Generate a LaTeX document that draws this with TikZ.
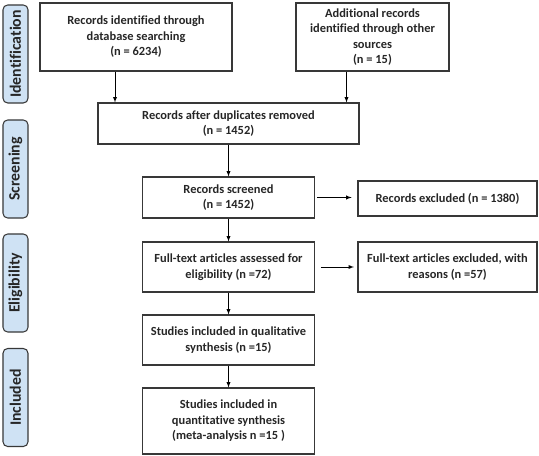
\documentclass[tikz,border=0pt]{standalone}
\usepackage{fontspec}
\setmainfont{Carlito}[Ligatures={NoCommon}]
\usetikzlibrary{arrows,positioning,calc}
\definecolor{sidefill}{HTML}{CFE2F4}
\definecolor{lineg}{HTML}{383838}

\begin{document}
\begin{tikzpicture}[x=0.03cm,y=-0.03cm,>=latex,semithick]
	\tikzstyle{block} = [draw=lineg,line width=0.9pt,rectangle,align=center,inner sep=1pt,font=\bfseries\fontsize{10.6}{13.2}\selectfont,text=black!85]
	\tikzstyle{side} = [draw=lineg,line width=0.9pt,rectangle,rounded corners=4pt,fill=sidefill,rotate=90,minimum width=2.94cm,minimum height=0.75cm,inner sep=0pt,font=\bfseries\fontsize{13.5}{14}\selectfont,text=black!85]
	\tikzstyle{arr} = [->,line width=0.6pt,draw=black]

	\useasboundingbox (0,0) rectangle (539,456);

	% phase labels
	\node[side] (S1) at (15.5,54) {Identification};
	\node[side] (S2) at (15.5,169) {Screening};
	\node[side] (S3) at (15.5,283) {Eligibility};
	\node[side] (S4) at (15.5,397.5) {Included};

	% boxes
	\node[block,minimum width=5.76cm,minimum height=2.04cm] (T1) at (136,37) {Records identified through\\ database searching\\ (n = 6234)};
	\node[block,minimum width=4.59cm,minimum height=2.04cm] (T2) at (372.5,37) {Additional records\\ identified through other\\ sources\\ (n = 15)};
	\node[block,minimum width=7.83cm,minimum height=1.23cm] (T3) at (228.5,123.5) {Records after duplicates removed\\ (n = 1452)};
	\node[block,minimum width=5.16cm,minimum height=1.23cm] (T4) at (228.5,197.5) {Records screened\\ (n = 1452)};
	\node[block,minimum width=5.37cm,minimum height=1.05cm] (T5) at (447.5,198.5) {Records excluded (n = 1380)};
	\node[block,minimum width=5.16cm,minimum height=1.5cm] (T6) at (228.5,267) {Full-text articles assessed for\\ eligibility (n =72)};
	\node[block,minimum width=5.37cm,minimum height=1.5cm] (T7) at (447.5,267) {Full-text articles excluded, with\\ reasons (n =57)};
	\node[block,minimum width=5.16cm,minimum height=1.5cm] (T8) at (228.5,340) {Studies included in qualitative\\ synthesis (n =15)};
	\node[block,minimum width=5.16cm,minimum height=1.98cm] (T9) at (228.5,421) {Studies included in\\ quantitative synthesis\\ (meta-analysis n =15 )};

	%arrows
	\draw[arr] ([xshift=-0.63cm]T1.south) -- ([xshift=-0.63cm]T1.south |- T3.north);
	\draw[arr] ([xshift=-0.78cm]T2.south) -- ([xshift=-0.78cm]T2.south |- T3.north);
	\draw[arr] (T3.south) -- (T4.north);
	\draw[arr,shorten <=2pt,shorten >=5pt] (T4.east) -- (T4.east -| T5.west);
	\draw[arr] (T4.south) -- (T6.north);
	\draw[arr,shorten <=5pt,shorten >=3pt] (T6.east) -- (T7.west);
	\draw[arr] (T6.south) -- (T8.north);
	\draw[arr] (T8.south) -- (T9.north);

\end{tikzpicture}
\end{document}
